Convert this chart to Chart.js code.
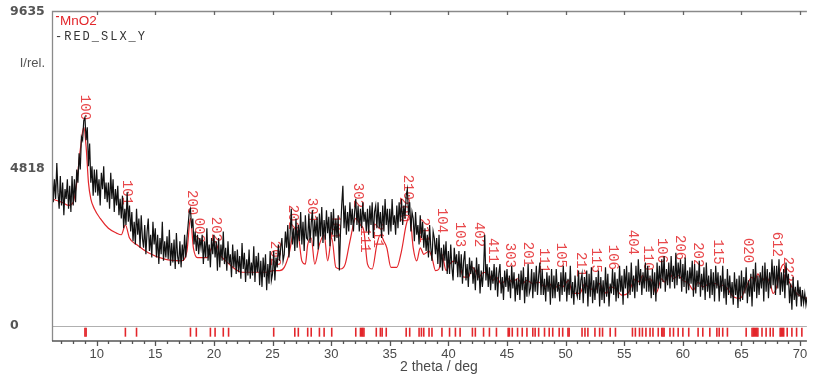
<!DOCTYPE html>
<html><head><meta charset="utf-8">
<script src="https://cdn.jsdelivr.net/npm/chart.js@4.4.0/dist/chart.umd.min.js"></script>
<style>html,body{margin:0;padding:0;background:#fff}#wrap{width:813px;height:374px;position:relative}</style>
</head><body><div id="wrap"><canvas id="c"></canvas></div>
<script>
// Measured pattern RED_SLX_Y, sampled every 0.1 deg from 6.2 deg (one row per degree)
const measStart = 6.2;
const measStep = 0.1;
const measured = [
4900,3800,4500,3900,5000,4100,3600,4600,
3700,4400,3400,4200,3900,4500,3600,4300,3500,4600,
3700,4500,3800,4800,4400,5300,4800,5800,5700,6300,
6400,5700,6100,4900,5600,4400,4900,4000,4800,4100,
4800,4000,4500,3700,4700,4200,4900,3900,4400,3800,
4400,3600,4700,3900,4500,3500,4200,3700,4300,3400,
3900,3300,4000,3000,3600,3100,4100,3200,3700,2900,
3500,2600,3200,2500,3600,2800,3300,2400,3400,2700,
2400,3100,2200,2900,3300,2300,2800,2100,3200,2500,
3000,2100,2800,1900,2700,2200,3200,2000,2600,2100,
2750,2050,2950,1850,2550,1950,2650,1750,2850,2150,
1900,2600,1800,2500,2000,2800,2100,2700,3100,3500,
3600,3000,3300,2500,2900,2300,2800,2200,2700,2400,
2800,1900,2600,2100,3000,2000,2500,1800,2700,2200,
2800,2100,2600,1700,2700,1800,2500,2000,2900,1900,
2400,1700,2600,1900,2200,1500,2500,1800,2300,1600,
2350,1650,2150,1450,2550,1750,2250,1350,2050,1550,
2350,1450,1950,1550,2450,1350,2150,1650,2250,1250,
2000,1200,2100,1500,2200,1100,1900,1300,2300,1400,
1600,2300,1400,2100,1800,2500,2000,2400,2700,2000,
2200,2900,2400,3100,2100,2800,3600,2500,3000,2300,
3300,2400,3100,2600,3500,2500,3200,2300,3400,2700,
2650,3450,2550,3150,3550,2450,3250,2750,3350,2350,
3450,2750,3650,2550,3250,2650,3550,2850,3350,2450,
3500,2800,3600,2600,3300,2700,3400,1700,2900,3700,
4300,3000,3700,2800,3500,2900,3800,3100,3600,2900,
3500,3900,3100,3700,2900,3600,3000,3800,3200,3500,
2900,3600,2800,3700,3100,3800,2700,3500,3700,3000,
3800,3000,3500,2700,3700,2900,3900,3100,3600,2800,
3600,2900,3900,3100,3400,2800,3700,3000,3800,3200,
3900,3100,3700,3300,4000,4200,3400,3800,2900,3500,
3300,2600,3500,2800,3100,2500,3400,2700,3200,2400,
3000,2300,2800,2100,3100,2400,2000,2900,2700,2200,
2700,1900,2800,1800,2400,1700,2500,2000,2600,1600,
2300,1600,2500,1800,1400,2400,1900,2200,1500,2300,
1500,2200,1300,2000,2300,1400,1900,1200,2100,1600,
2000,1300,1800,1100,2100,1400,1900,1000,1700,1200,
1700,2800,1400,1900,1200,1800,1100,1700,1300,1900,
1100,1800,900,1600,1900,1000,1500,800,1700,1200,
1750,1050,1550,850,1850,1150,1650,750,1450,950,
1600,800,1700,1100,1800,700,1500,900,1900,1000,
1150,1750,850,1650,1050,1850,950,1550,1950,950,
1750,950,1450,750,1650,1050,1550,650,1750,850,
1550,850,1750,1050,1350,750,1650,950,1850,1050,
1650,750,1450,950,1850,850,1350,650,1550,1050,
900,1700,800,1400,1600,700,1500,1000,1700,600,
1600,900,1800,700,1400,800,1500,1000,1700,600,
1500,800,1400,700,1800,900,1600,600,1300,1000,
1750,950,1650,750,1450,850,1850,1050,1550,650,
1750,1150,1850,850,1650,950,1950,1050,1550,850,
1850,1050,2050,1250,1750,950,1650,1150,1950,1050,
1850,1050,1550,850,1750,950,1650,750,1950,1150,
1850,1150,2050,1350,2150,1050,1750,1250,1950,1150,
2150,1350,1850,1150,2250,1250,1950,1450,2050,1050,
1900,1200,2100,1000,1700,1100,1800,1300,2000,900,
1900,1000,1700,1200,2000,900,1600,1100,1800,800,
1950,1050,1550,850,1750,950,1650,750,1850,1150,
1650,750,1550,1050,1850,850,1450,650,1750,950,
1550,850,1350,650,1650,950,1450,550,1550,750,
1700,800,1500,1000,1800,700,1400,900,1600,600,
1750,1050,1950,850,1550,950,1650,1150,1850,750,
1950,1050,1750,850,1650,1150,2050,1250,1850,950,
1850,1150,2050,950,1650,1050,1750,850,1950,1250,
1600,700,1300,500,1500,800,1200,600,1400,900,
1200,600,1100,700,1000,650,900
];

// Calculated MnO2 pattern (2theta, counts)
const calcTheta = [6.2,7.0,7.6,8.0,8.3,8.6,8.9,9.1,9.3,9.5,9.8,10.3,11.0,11.7,12.1,12.45,12.8,13.4,14.4,15.8,17.2,17.7,18.0,18.25,18.6,19.4,19.8,20.1,20.5,21.0,21.3,21.8,22.4,24.5,25.1,25.6,26.0,26.4,26.9,27.2,27.5,27.8,28.0,28.3,28.6,29.0,29.4,29.7,30.05,30.4,30.8,31.2,31.6,32.1,32.5,32.8,33.1,33.5,33.9,34.2,34.5,34.75,35.1,35.6,36.0,36.4,36.7,37.0,37.3,37.6,37.9,38.35,38.6,38.9,39.2,39.45,39.8,40.1,40.6,41.0,41.3,41.7,42.05,42.3,42.6,43.0,43.5,43.8,44.1,44.5,45.1,45.45,45.9,46.3,46.7,47.2,47.7,48.2,48.6,49.0,49.45,49.75,50.25,50.6,51.2,51.65,51.9,52.5,52.9,53.2,53.5,53.8,54.25,54.8,55.3,55.7,55.95,56.3,56.55,56.85,57.2,57.45,57.7,58.2,58.4,58.9,59.2,59.6,60.0,60.5,60.9,61.3,61.7,62.3,62.9,63.1,63.4,63.8,64.3,64.9,65.4,65.9,66.1,66.4,66.75,67.1,67.45,67.7,68.0,68.3,68.6,68.9,69.3,69.7,70.15,70.6];
const calcCounts = [3900,3800,3700,3800,4400,5400,6100,5500,4400,3900,3600,3300,3000,2850,2800,3100,2700,2500,2250,2050,2000,2300,3300,2400,2100,2100,2400,2600,2200,2000,1900,1750,1650,1650,1700,1700,1800,2200,3000,2800,2000,1900,2500,2700,1900,2500,2800,2000,2700,1800,1750,1900,2600,3300,3100,2900,1900,1750,2500,2800,2600,2400,1800,1800,2300,3100,3400,2400,2000,2400,2200,2300,2100,1700,1750,2200,1700,1900,2000,1800,1500,1500,1800,1700,1500,1650,1550,1400,1500,1300,1450,1350,1450,1300,1400,1300,1350,1200,1300,1150,1250,1200,1400,1000,1000,1300,1200,1100,1300,1100,1000,1200,1150,950,1000,1300,1450,1350,1550,1400,1450,1300,1000,1450,1350,1600,1450,1550,1400,1300,1100,1350,1200,1300,1300,1200,1250,1150,900,850,1200,1500,1350,1600,1400,1500,1300,1000,1200,1700,1900,1500,1200,1000,900,850];

// Reflection positions (stick marks)
const stickTheta = [9.0,9.1,12.45,13.4,18.0,18.5,19.7,20.1,20.8,21.25,25.1,26.9,27.2,28.0,28.3,29.0,29.4,30.05,32.1,32.5,32.6,32.7,32.8,33.85,34.2,34.35,34.7,36.4,36.7,37.5,37.7,37.9,38.35,38.6,39.45,40.1,40.6,41.0,42.05,42.3,43.0,43.5,44.1,45.1,45.2,45.45,45.9,46.3,46.7,47.2,47.4,47.7,48.2,48.6,48.9,49.45,49.75,50.2,50.3,51.4,51.65,51.9,52.5,52.9,53.15,53.8,54.25,55.7,55.95,56.3,56.55,56.85,57.2,57.45,57.9,58.2,58.3,58.4,58.9,59.2,59.6,60.0,60.5,61.3,61.7,62.3,62.9,63.1,63.4,63.8,65.4,65.9,66.0,66.1,66.2,66.3,66.4,66.75,67.1,67.45,67.7,68.3,68.4,68.5,68.6,68.9,69.3,69.7,70.15];

// hkl labels: position and intensity at label's lower end
const peakHkl = ["100","101","200","002","202","202","202","301","101","302","111","211","200","210","211","104","103","402","411","303","201","111","105","211","115","106","404","110","106","206","202","115","020","612","222"];
const peakTheta = [8.98,12.6,18.1,18.7,20.15,25.2,26.75,28.3,30.3,32.25,32.85,34.0,36.2,36.5,37.9,39.45,41.0,42.6,43.8,45.2,46.8,48.1,49.6,51.3,52.55,54.0,55.7,57.0,58.2,59.7,61.3,63.0,65.5,68.0,68.9];
const peakTop = [6320,3710,3400,2550,2580,1840,2950,3160,2650,3620,2250,2400,3190,3870,2550,2850,2420,2420,1930,1780,1810,1620,1780,1500,1630,1720,2180,1700,1930,2020,1800,1880,1930,2120,1350];

const xTickLabels = [10,15,20,25,30,35,40,45,50,55,60,65,70];
const yTickLabels = [9635,4818,0];
const xMin = 6.19, xMax = 70.58, yMin = -460, yMax = 9666;

const measuredPts = measured.map((v,i)=>({x: +(measStart + i*measStep).toFixed(2), y: v}));
const calcPts = calcTheta.map((t,i)=>({x:t, y:calcCounts[i]}));
const stickPts = stickTheta.map(t=>({x:t, y:-190}));

const RED = '#e3262b';

const deco = {
  id:'deco',
  beforeDatasetsDraw(chart){
    const {ctx, chartArea:a, scales:{x,y}} = chart;
    ctx.save();
    const y0 = Math.round(y.getPixelForValue(0))+0.5;
    ctx.strokeStyle = '#b0b0b0'; ctx.lineWidth = 1;
    ctx.beginPath(); ctx.moveTo(a.left, y0); ctx.lineTo(a.right, y0); ctx.stroke();
    ctx.fillStyle = '#e8474a';
    ctx.font = '14px "Liberation Mono", monospace';
    ctx.textAlign = 'right'; ctx.textBaseline = 'middle';
    peakHkl.forEach((lab,i)=>{
      const px = x.getPixelForValue(peakTheta[i]);
      const py = y.getPixelForValue(peakTop[i]);
      ctx.save(); ctx.translate(px, py); ctx.rotate(Math.PI/2);
      ctx.fillText(lab, 0, 0); ctx.restore();
    });
    ctx.restore();
  },
  afterDraw(chart){
    const {ctx, chartArea:a, scales:{x,y}} = chart;
    ctx.save();
    ctx.strokeStyle = '#8a8a8a'; ctx.lineWidth = 1.3;
    ctx.beginPath(); ctx.moveTo(a.left+0.5, a.bottom); ctx.lineTo(a.left+0.5, a.top+0.5); ctx.lineTo(a.right, a.top+0.5); ctx.stroke();
    ctx.strokeStyle = '#555'; ctx.lineWidth = 1.5;
    ctx.beginPath(); ctx.moveTo(a.left, a.bottom); ctx.lineTo(a.right, a.bottom); ctx.stroke();
    ctx.lineWidth = 1.3;
    for (let v = Math.ceil(xMin); v <= xMax; v++) {
      const px = Math.round(x.getPixelForValue(v))+0.5;
      const len = (v % 5 === 0) ? 5 : 3;
      ctx.strokeStyle = '#555';
      ctx.beginPath(); ctx.moveTo(px, a.bottom); ctx.lineTo(px, a.bottom+len); ctx.stroke();
    }
    ctx.strokeStyle = '#666';
    xTickLabels.forEach(v=>{
      const px = Math.round(x.getPixelForValue(v))+0.5;
      ctx.beginPath(); ctx.moveTo(px, a.top); ctx.lineTo(px, a.top+4); ctx.stroke();
    });
    ctx.fillStyle = '#4a4a4a';
    ctx.font = '13px "Liberation Sans", Arial, sans-serif';
    ctx.textAlign = 'center'; ctx.textBaseline = 'middle';
    xTickLabels.forEach(v=>{ ctx.fillText(String(v), x.getPixelForValue(v), 354); });
    ctx.font = '14px "Liberation Sans", Arial, sans-serif';
    ctx.textAlign = 'left';
    ctx.fillText('2 theta / deg', 400, 367);
    ctx.font = 'bold 12.5px "DejaVu Sans", sans-serif';
    ctx.fillStyle = '#555';
    ctx.textAlign = 'left';
    yTickLabels.forEach(v=>{ ctx.fillText(String(v), 10, y.getPixelForValue(v)); });
    ctx.font = '13px "Liberation Sans", Arial, sans-serif';
    ctx.textAlign = 'right';
    ctx.fillText('I/rel.', 45, 63);
    ctx.textAlign = 'left'; ctx.textBaseline = 'alphabetic';
    ctx.fillStyle = RED;
    ctx.fillRect(56, 16, 3, 1.2);
    ctx.font = '13.5px "Liberation Sans", Arial, sans-serif';
    ctx.fillText('MnO2', 60, 25);
    ctx.fillStyle = '#333';
    ctx.font = '12px "Liberation Mono", monospace';
    if ('letterSpacing' in ctx) ctx.letterSpacing = '2px';
    ctx.fillText('-RED_SLX_Y', 55, 40);
    ctx.restore();
  }
};

new Chart(document.getElementById('c'), {
  type: 'line',
  data: {
    datasets: [
      { label:'RED_SLX_Y', data: measuredPts, borderColor:'#111', borderWidth:1.2, pointRadius:0, tension:0, order:0 },
      { label:'MnO2', data: calcPts, borderColor:RED, borderWidth:1.2, pointRadius:0, cubicInterpolationMode:'monotone', order:1 },
      { label:'ticks', type:'scatter', data: stickPts, borderColor:RED, backgroundColor:RED, pointStyle:'line', rotation:90, pointRadius:4.5, borderWidth:1.6, showLine:false, order:2 }
    ]
  },
  options: {
    responsive: true, maintainAspectRatio: false, animation: false,
    layout: { padding: { left:52, top:11, right:0, bottom:33 } },
    plugins: { legend:{display:false}, tooltip:{enabled:false} },
    scales: {
      x: { type:'linear', min:xMin, max:xMax, display:false },
      y: { type:'linear', min:yMin, max:yMax, display:false }
    }
  },
  plugins: [deco]
});
</script>
</body></html>
